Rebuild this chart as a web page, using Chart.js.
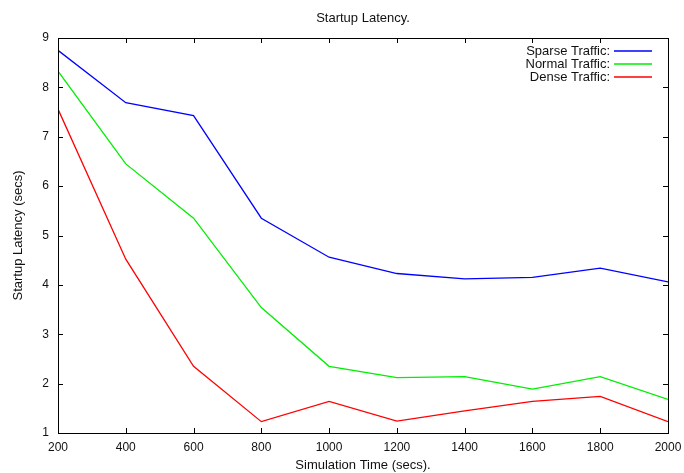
<!DOCTYPE html>
<html>
<head>
<meta charset="utf-8">
<script src="https://cdn.jsdelivr.net/npm/chart.js@4"></script>
<style>
  html, body { margin: 0; padding: 0; background: #fff; }
  #wrap { width: 684px; height: 473px; }
</style>
</head>
<body>
<div id="wrap"><canvas id="latencyChart"></canvas></div>
<script>
// values
const simTimes = [200, 400, 600, 800, 1000, 1200, 1400, 1600, 1800, 2000];
const sparseTraffic = [8.75, 7.69, 7.43, 5.35, 4.56, 4.23, 4.12, 4.15, 4.34, 4.06];
const normalTraffic = [8.33, 6.45, 5.35, 3.54, 2.35, 2.12, 2.14, 1.89, 2.14, 1.68];
const denseTraffic = [7.56, 4.52, 2.35, 1.23, 1.64, 1.24, 1.45, 1.64, 1.74, 1.23];

const chartTitle = 'Startup Latency.';
const xTitle = 'Simulation Time (secs).';
const yTitle = 'Startup Latency (secs)';
const FONT = "'Liberation Sans', Arial, Helvetica, sans-serif";

function toPoints(values) {
    return values.map((v, i) => ({ x: simTimes[i], y: v }));
}

// gnuplot style frame: border box, inward ticks on all four sides, title over the plot
const framePlugin = {
    id: 'frame',
    afterDraw(chart) {
        const ctx = chart.ctx;
        const area = chart.chartArea;
        const xs = chart.scales.x;
        const ys = chart.scales.y;
        ctx.save();
        ctx.strokeStyle = '#000';
        ctx.lineWidth = 1;
        ctx.beginPath();
        xs.ticks.forEach(t => {
            let px = Math.round(xs.getPixelForValue(t.value)) + 0.5;
            ctx.moveTo(px, area.bottom);
            ctx.lineTo(px, area.bottom - 5);
            ctx.moveTo(px, area.top);
            ctx.lineTo(px, area.top + 5);
        });
        ys.ticks.forEach(t => {
            let py = Math.round(ys.getPixelForValue(t.value)) + 0.5;
            ctx.moveTo(area.left, py);
            ctx.lineTo(area.left + 5, py);
            ctx.moveTo(area.right, py);
            ctx.lineTo(area.right - 5, py);
        });
        ctx.stroke();
        ctx.strokeRect(Math.round(area.left) + 0.5, Math.round(area.top) + 0.5,
                       Math.round(area.right - area.left), Math.round(area.bottom - area.top));

        // title
        ctx.fillStyle = '#111';
        ctx.font = '13px ' + FONT;
        ctx.textAlign = 'center';
        ctx.textBaseline = 'middle';
        ctx.fillText(chartTitle, (area.left + area.right) / 2, 18);

        // key, text right aligned with the sample line after it
        ctx.textAlign = 'right';
        chart.data.datasets.forEach((ds, i) => {
            let y = 51 + i * 13;
            ctx.fillStyle = '#111';
            ctx.fillText(ds.label, 610, y);
            ctx.strokeStyle = ds.borderColor;
            ctx.lineWidth = 1.3;
            ctx.beginPath();
            ctx.moveTo(614, y);
            ctx.lineTo(652, y);
            ctx.stroke();
        });
        ctx.restore();
    }
};

let ctx = document.getElementById('latencyChart');
let latencyChart = new Chart(ctx, {
    type: 'line',
    data: {
        datasets: [
            { label: 'Sparse Traffic:', data: toPoints(sparseTraffic), borderColor: '#0000ff' },
            { label: 'Normal Traffic:', data: toPoints(normalTraffic), borderColor: '#00ee00' },
            { label: 'Dense Traffic:', data: toPoints(denseTraffic), borderColor: '#ff0000' }
        ]
    },
    options: {
        responsive: true,
        maintainAspectRatio: false,
        animation: false,
        layout: { padding: { top: 38, right: 16, bottom: 0, left: 0 } },
        elements: {
            line: { borderWidth: 1.3, tension: 0, fill: false },
            point: { radius: 0, hoverRadius: 0 }
        },
        scales: {
            x: {
                type: 'linear',
                min: 200,
                max: 2000,
                grid: { display: false, drawTicks: false },
                border: { display: false },
                ticks: {
                    stepSize: 200,
                    padding: 7,
                    color: '#111',
                    font: { family: FONT, size: 12 },
                    callback: (value) => String(value)
                },
                title: {
                    display: true,
                    text: xTitle,
                    color: '#111',
                    font: { family: FONT, size: 13 },
                    padding: { top: 0, bottom: 0 }
                },
                afterFit(scale) {
                    scale.height = 40;
                    scale.paddingLeft = 0;
                    scale.paddingRight = 0;
                }
            },
            y: {
                min: 1,
                max: 9,
                grid: { display: false, drawTicks: false },
                border: { display: false },
                ticks: {
                    stepSize: 1,
                    padding: 9,
                    color: '#111',
                    font: { family: FONT, size: 12 }
                },
                title: {
                    display: true,
                    text: yTitle,
                    color: '#111',
                    font: { family: FONT, size: 13 },
                    padding: { top: 11, bottom: 0 }
                },
                afterFit(scale) {
                    scale.width = 58;
                    scale.paddingTop = 0;
                    scale.paddingBottom = 0;
                }
            }
        },
        plugins: {
            legend: { display: false },
            title: { display: false },
            tooltip: { enabled: false }
        }
    },
    plugins: [framePlugin]
});
</script>
</body>
</html>
